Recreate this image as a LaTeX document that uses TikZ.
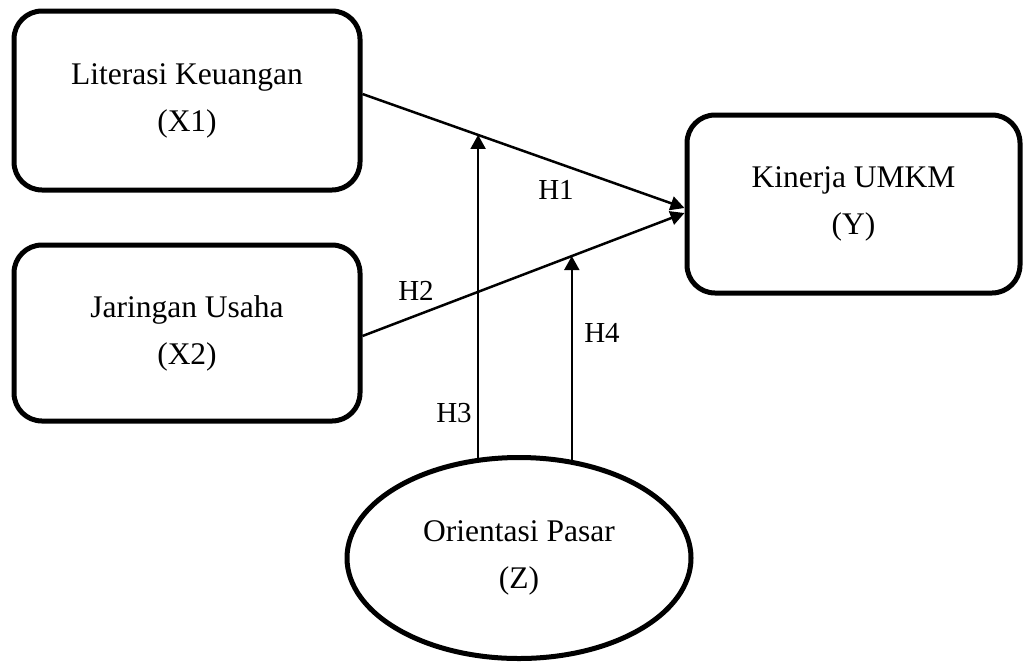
\documentclass[tikz,border=0pt]{standalone}
\usepackage{fontspec}
\setmainfont{Liberation Serif}
\usetikzlibrary{arrows.meta,calc,shapes.geometric}
\pgfdeclarelayer{background}
\pgfsetlayers{background,main}
\begin{document}
\begin{tikzpicture}[x=1pt,y=-1pt,
  box/.style={draw, line width=5pt, rounded corners=28pt, fill=white, align=center,
    font=\fontsize{31.5}{47}\selectfont, inner sep=0pt},
  oval/.style={ellipse, draw, line width=5pt, fill=white, align=center,
    font=\fontsize{31.5}{47}\selectfont, inner sep=0pt},
  link/.style={line width=2.5pt, -{Triangle[length=14pt,width=14pt]}},
  uplink/.style={line width=2pt, -{Triangle[length=14pt,width=15pt]}},
  lab/.style={font=\fontsize{29}{34}\selectfont, inner sep=0pt}]
\useasboundingbox (0,0) rectangle (1024,662);
\node[box, minimum width=346pt, minimum height=179pt] (X1) at (187,100.5) {Literasi Keuangan\\(X1)};
\node[box, minimum width=346pt, minimum height=176pt] (X2) at (187,333) {Jaringan Usaha\\(X2)};
\node[box, minimum width=333pt, minimum height=178pt] (Y) at (853.5,204) {Kinerja UMKM\\(Y)};
\node[oval, minimum width=344pt, minimum height=201pt] (Z) at (519,558) {Orientasi Pasar\\(Z)};
\coordinate (s1) at (X1.east |- 0,94);
\coordinate (t1) at (Y.west |- 0,208);
\coordinate (s2) at (X2.east |- 0,336);
\coordinate (t2) at (Y.west |- 0,213);
\draw[link] (s1) -- (t1);
\draw[link] (s2) -- (t2);
\coordinate (h3) at ($(s1)!0.359!(t1)$);
\coordinate (h4) at ($(s2)!0.650!(t2)$);
\begin{pgfonlayer}{background}
\draw[uplink] (h3 |- Z.center) -- (h3);
\draw[uplink] (h4 |- Z.center) -- (h4);
\end{pgfonlayer}
\node[lab] (H1) at (556,190) {H1};
\node[lab] (H2) at (416,291) {H2};
\node[lab] (H3) at (454,413) {H3};
\node[lab] (H4) at (602,333) {H4};
\end{tikzpicture}
\end{document}
